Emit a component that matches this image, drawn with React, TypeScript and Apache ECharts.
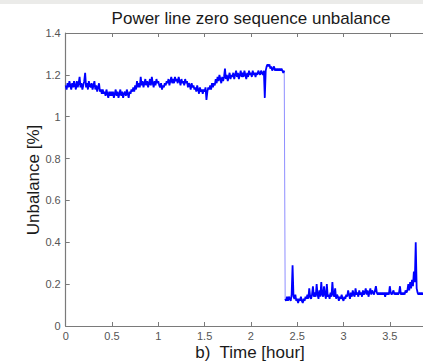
import React, { useEffect, useRef } from "react";
import * as echarts from "echarts";

// Sampling interval of the recorded unbalance, in hours
const SAMPLE_STEP_H = 0.01;

// Zero sequence unbalance [%], before the switching event (0.00 h .. 2.36 h)
const unbalanceBefore: number[] = [
  1.15, 1.13, 1.16, 1.14, 1.17, 1.15, 1.13, 1.16, 1.14, 1.17,
  1.15, 1.13, 1.17, 1.14, 1.16, 1.19, 1.14, 1.16, 1.13, 1.15,
  1.17, 1.21, 1.14, 1.16, 1.13, 1.17, 1.15, 1.14, 1.16, 1.13,
  1.15, 1.17, 1.13, 1.15, 1.12, 1.14, 1.16, 1.12, 1.13, 1.11,
  1.13, 1.11, 1.12, 1.10, 1.13, 1.11, 1.09, 1.12, 1.10, 1.12,
  1.10, 1.12, 1.09, 1.11, 1.13, 1.10, 1.12, 1.09, 1.11, 1.13,
  1.10, 1.12, 1.09, 1.11, 1.12, 1.10, 1.13, 1.11, 1.09, 1.12,
  1.11, 1.13, 1.12, 1.14, 1.12, 1.15, 1.13, 1.17, 1.14, 1.16,
  1.14, 1.19, 1.15, 1.17, 1.14, 1.16, 1.18, 1.15, 1.17, 1.14,
  1.16, 1.18, 1.15, 1.19, 1.16, 1.14, 1.17, 1.15, 1.18, 1.16,
  1.17, 1.15, 1.14, 1.16, 1.13, 1.15, 1.14, 1.16, 1.15, 1.17,
  1.16, 1.18, 1.15, 1.17, 1.19, 1.16, 1.18, 1.16, 1.19, 1.17,
  1.18, 1.16, 1.19, 1.17, 1.15, 1.18, 1.16, 1.17, 1.15, 1.18,
  1.16, 1.17, 1.14, 1.16, 1.15, 1.13, 1.16, 1.14, 1.15, 1.13,
  1.14, 1.12, 1.15, 1.13, 1.11, 1.14, 1.12, 1.13, 1.11, 1.13,
  1.12, 1.14, 1.08, 1.12, 1.14, 1.13, 1.15, 1.13, 1.16, 1.14,
  1.16, 1.15, 1.18, 1.16, 1.19, 1.17, 1.20, 1.18, 1.16, 1.19,
  1.17, 1.19, 1.23, 1.18, 1.20, 1.17, 1.19, 1.21, 1.18, 1.20,
  1.19, 1.21, 1.18, 1.20, 1.22, 1.19, 1.21, 1.18, 1.20, 1.22,
  1.19, 1.21, 1.19, 1.22, 1.20, 1.18, 1.21, 1.19, 1.22, 1.20,
  1.21, 1.19, 1.22, 1.20, 1.21, 1.19, 1.21, 1.20, 1.22, 1.21,
  1.20, 1.22, 1.21, 1.20, 1.22, 1.09, 1.22, 1.24, 1.25, 1.24,
  1.25, 1.23, 1.24, 1.22, 1.23, 1.24, 1.22, 1.23, 1.22, 1.23,
  1.22, 1.23, 1.22, 1.23, 1.22, 1.21, 1.22,
];

// Zero sequence unbalance [%], after the switching event (2.37 h .. 3.86 h)
const unbalanceAfter: number[] = [
  0.13, 0.12, 0.14,
  0.12, 0.14, 0.13, 0.12, 0.15, 0.29, 0.14, 0.13, 0.15, 0.12,
  0.13, 0.11, 0.13, 0.12, 0.14, 0.12, 0.11, 0.13, 0.12, 0.14,
  0.13, 0.15, 0.13, 0.18, 0.14, 0.13, 0.15, 0.19, 0.14, 0.16,
  0.14, 0.20, 0.15, 0.13, 0.17, 0.14, 0.21, 0.15, 0.14, 0.19,
  0.15, 0.13, 0.20, 0.14, 0.15, 0.13, 0.16, 0.14, 0.21, 0.15,
  0.14, 0.18, 0.13, 0.15, 0.14, 0.12, 0.14, 0.13, 0.15, 0.13,
  0.12, 0.14, 0.13, 0.15, 0.14, 0.17, 0.15, 0.13, 0.16, 0.14,
  0.17, 0.15, 0.14, 0.18, 0.15, 0.16, 0.14, 0.17, 0.15, 0.16,
  0.14, 0.17, 0.15, 0.16, 0.18, 0.15, 0.17, 0.14, 0.16, 0.18,
  0.15, 0.17, 0.16, 0.15, 0.17, 0.19, 0.16, 0.15, 0.16, 0.15,
  0.16, 0.15, 0.16, 0.15, 0.16, 0.14, 0.16, 0.15, 0.16, 0.15,
  0.19, 0.16, 0.15, 0.16, 0.17, 0.15, 0.16, 0.15, 0.16, 0.15,
  0.16, 0.19, 0.15, 0.16, 0.15, 0.16, 0.15, 0.17, 0.16, 0.17,
  0.20, 0.17, 0.21, 0.18, 0.22, 0.19, 0.26, 0.21, 0.40, 0.18,
  0.16, 0.15, 0.16, 0.15, 0.16, 0.15, 0.16,
];

const X_TICKS = { min: 0, max: 4, interval: 0.5 };
const Y_TICKS = { min: 0, max: 1.4, interval: 0.2 };

const TITLE = "Power line zero sequence unbalance";
const X_LABEL = "b)  Time [hour]";
const Y_LABEL = "Unbalance [%]";

const FONT = "'Liberation Sans', Arial, Helvetica, sans-serif";

// The axes box runs past the right edge of the visible frame
const VIEW_W = 423;
const VIEW_H = 361;
const CANVAS_W = 460;

export default function App() {
  const ref = useRef<HTMLDivElement>(null);

  useEffect(() => {
    if (!ref.current) return;
    const chart = echarts.init(ref.current, undefined, { renderer: "svg" });

    const toPoints = (vals: number[], offset: number) =>
      vals.map((v, i) => [Number(((offset + i) * SAMPLE_STEP_H).toFixed(2)), v]);

    const before = toPoints(unbalanceBefore, 0);
    const after = toPoints(unbalanceAfter, unbalanceBefore.length);
    const step = [before[before.length - 1], after[0]];

    const axisLine = { show: true, lineStyle: { color: "#7a7a7a", width: 1.2 } };
    const tick = { show: true, inside: true, length: 4, lineStyle: { color: "#7a7a7a" } };
    const lineSeries = (data: number[][], color: string, width: number) => ({
      type: "line",
      xAxisIndex: 0,
      data,
      showSymbol: false,
      symbol: "none",
      lineStyle: { color, width },
    });

    chart.setOption({
      animation: false,
      backgroundColor: "#ffffff",
      grid: { left: 65.7, top: 33, width: 370.4, height: 293, containLabel: false },
      xAxis: [
        {
          type: "value",
          position: "bottom",
          ...X_TICKS,
          axisLine,
          axisTick: tick,
          splitLine: { show: false },
          axisLabel: {
            color: "#555",
            fontSize: 11,
            fontFamily: FONT,
            margin: 4,
            showMaxLabel: false,
          },
        },
        {
          type: "value",
          position: "top",
          ...X_TICKS,
          axisLine,
          axisTick: tick,
          splitLine: { show: false },
          axisLabel: { show: false },
        },
      ],
      yAxis: {
        type: "value",
        ...Y_TICKS,
        axisLine,
        axisTick: tick,
        splitLine: { show: false },
        axisLabel: { color: "#555", fontSize: 11, fontFamily: FONT, margin: 5 },
      },
      series: [
        lineSeries(step, "#8f8fff", 1),
        lineSeries(before, "#0000ff", 1.8),
        lineSeries(after, "#0000ff", 1.8),
      ],
      graphic: [
        {
          type: "rect",
          shape: { x: 0, y: 0, width: CANVAS_W, height: 4 },
          style: { fill: "#ebebe9" },
          silent: true,
        },
        {
          type: "text",
          x: 251,
          y: 18,
          style: {
            text: TITLE,
            fill: "#1a1a1a",
            font: `17px ${FONT}`,
            textAlign: "center",
            textVerticalAlign: "middle",
          },
        },
        {
          type: "text",
          x: 250,
          y: 352,
          style: {
            text: X_LABEL,
            fill: "#1a1a1a",
            font: `17px ${FONT}`,
            textAlign: "center",
            textVerticalAlign: "middle",
          },
        },
        {
          type: "text",
          x: 33,
          y: 180,
          rotation: Math.PI / 2,
          style: {
            text: Y_LABEL,
            fill: "#1a1a1a",
            font: `17px ${FONT}`,
            textAlign: "center",
            textVerticalAlign: "middle",
          },
        },
      ],
    });

    return () => chart.dispose();
  }, []);

  return (
    <div
      style={{
        position: "fixed",
        left: 0,
        top: 0,
        width: VIEW_W,
        height: VIEW_H,
        overflow: "hidden",
        background: "#fff",
      }}
    >
      <div ref={ref} style={{ width: CANVAS_W, height: VIEW_H }} />
    </div>
  );
}
